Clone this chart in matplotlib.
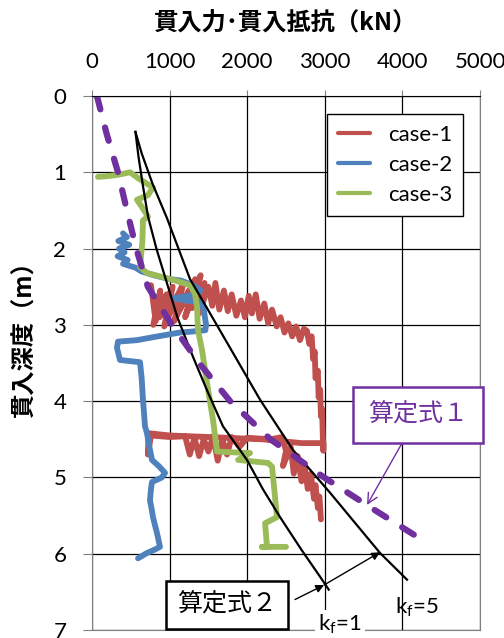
import matplotlib
matplotlib.use("Agg")
import matplotlib.pyplot as plt

plt.rcParams['font.family'] = ['Lato', 'Noto Sans CJK JP', 'DejaVu Sans']

# case-1 (red)
case1_x = [760, 820, 880, 790, 960, 870, 1040, 930, 1100, 990, 1180, 1060, 1250, 1130, 1330, 1200, 1400, 1290, 1450, 1380, 1500,
           1550, 1590, 1640, 1700, 1750, 1800, 1860, 1920, 1970, 2020, 2060, 2110, 2160, 2220, 2270, 2320, 2380, 2430, 2480,
           2530, 2580, 2630, 2680, 2730, 2770,
           2800, 2830, 2850, 2870, 2880, 2910, 2920, 2940, 2950, 2965, 2975, 2980, 2985,
           2700, 2200, 1500, 1000, 730, 720, 760,
           1000, 1200, 1260, 1320, 1380, 1440, 1500, 1560, 1620, 1680, 1740, 1800, 1900, 2000, 2300, 2450,
           2500, 2460, 2560, 2600, 2650, 2700, 2740, 2780, 2820, 2860, 2880, 2910, 2930, 2950]
case1_y = [2.48, 2.95, 2.55, 3.0, 2.6, 2.9, 2.5, 3.02, 2.62, 2.85, 2.45, 2.95, 2.55, 2.8, 2.4, 2.9, 2.35, 2.78, 2.45, 2.85, 2.5,
           2.75, 2.45, 2.8, 2.55, 2.82, 2.6, 2.88, 2.68, 2.9, 2.62, 2.85, 2.6, 2.92, 2.72, 2.98, 2.8, 3.02, 2.9, 3.1,
           2.98, 3.15, 3.02, 3.2, 3.05, 3.08,
           3.25, 3.15, 3.45, 3.35, 3.7, 3.6, 3.95, 3.85, 4.2, 4.1, 4.5, 4.65, 4.55,
           4.55, 4.5, 4.47, 4.45, 4.42, 4.7, 4.45,
           4.47, 4.46, 4.7, 4.48, 4.72, 4.5, 4.66, 4.46, 4.78, 4.5, 4.7, 4.47, 4.6, 4.48, 4.5, 4.47,
           4.65, 4.85, 4.6, 4.95, 4.72, 5.05, 4.85, 5.15, 4.95, 5.28, 5.1, 5.4, 5.25, 5.55]

# case-2 (blue)
case2_x = [400, 450, 340, 480, 350, 420, 330, 460, 400, 560, 640, 800, 1000, 1150, 1300, 1400, 1250, 1050, 1200, 1400,
           1440, 1470, 1460, 1263, 1134, 850, 580, 335, 322, 361, 619, 640, 657, 670, 683, 709, 740, 773, 860, 941, 900,
           773, 760, 747, 770, 786, 810, 838, 876, 800, 709, 593]
case2_y = [1.8, 1.85, 1.9, 1.95, 2.0, 2.05, 2.1, 2.15, 2.2, 2.25, 2.3, 2.35, 2.4, 2.42, 2.48, 2.55, 2.62, 2.65, 2.68, 2.7,
           2.8, 3.0, 3.07, 3.09, 3.1, 3.15, 3.2, 3.22, 3.3, 3.46, 3.49, 3.7, 3.98, 4.15, 4.33, 4.42, 4.6, 4.77, 4.85, 4.94, 5.0,
           5.06, 5.15, 5.3, 5.42, 5.52, 5.62, 5.73, 5.91, 5.95, 5.99, 6.06]

# case-3 (green)
case3_x = [77, 200, 350, 490, 600, 786, 720, 580, 640, 722, 657, 650, 619, 709, 1044, 1263, 1327, 1353, 1366,
           1418, 1482, 1560, 1611, 1800, 2036, 1882, 2268, 2320, 2384, 2230, 2255, 2190, 2500]
case3_y = [1.06, 1.05, 1.03, 1.0, 1.08, 1.2, 1.3, 1.36, 1.45, 1.58, 1.63, 1.9, 2.24, 2.32, 2.41, 2.48, 2.59, 2.76, 3.07,
           3.33, 3.76, 4.25, 4.66, 4.67, 4.68, 4.77, 4.81, 4.86, 5.52, 5.6, 5.91, 5.91, 5.91]

# 算定式1 (purple dashed)
eq1_x = [64, 190, 335, 450, 570, 720, 1030, 1380, 1780, 2300, 2990, 3600, 4350]
eq1_y = [0, 0.5, 1.0, 1.5, 2.0, 2.5, 3.0, 3.5, 4.0, 4.5, 5.0, 5.4, 5.88]

# 算定式2 (black, kf=1 and kf=5)
kf1_x = [560, 600, 660, 722, 830, 941, 1100, 1302, 1500, 1688, 1997, 2200, 2423, 2700, 2938, 3050]
kf1_y = [0.47, 0.8, 1.2, 1.58, 2.0, 2.37, 2.9, 3.42, 3.9, 4.33, 4.77, 5.15, 5.52, 5.95, 6.3, 6.47]
kf5_x = [560, 640, 780, 966, 1263, 1482, 1750, 2165, 2590, 3067, 3711, 4059]
kf5_y = [0.47, 0.75, 1.15, 1.6, 2.4, 2.78, 3.25, 3.98, 4.64, 5.2, 5.99, 6.34]

fig = plt.figure(figsize=(5.04, 6.38), dpi=100)
ax = fig.add_axes([0.1825, 0.0125, 0.77, 0.837])

kw = dict(lw=4.2, solid_joinstyle='round', solid_capstyle='round')
ax.plot(case1_x, case1_y, color='#C0504D', label='case-1', **kw)
ax.plot(case2_x, case2_y, color='#4F81BD', label='case-2', **kw)
ax.plot(case3_x, case3_y, color='#9BBB59', label='case-3', **kw)
ax.plot(kf1_x, kf1_y, color='black', lw=1.6)
ax.plot(kf5_x, kf5_y, color='black', lw=1.6)
ax.plot(eq1_x, eq1_y, color='#7030A0', lw=4.5, dashes=(2.2, 3.0), dash_capstyle='round')

ax.set_xlim(0, 5000)
ax.set_ylim(7, 0)
ax.set_xticks(range(0, 5001, 1000))
ax.set_yticks(range(0, 8))
ax.xaxis.tick_top()
ax.tick_params(axis='x', direction='out', length=4, pad=13, labelsize=16, color='#808080')
ax.tick_params(axis='y', direction='out', length=6.5, pad=12, labelsize=16, color='#808080')
ax.grid(True, color='black', lw=0.9)
for s in ['left', 'right', 'bottom']:
    ax.spines[s].set_color('#808080')
ax.spines['top'].set_color('black')

leg = ax.legend(loc='upper right', bbox_to_anchor=(0.985, 0.987), fontsize=16, fancybox=False,
                edgecolor='black', framealpha=1, handlelength=1.45, labelspacing=0.45, borderpad=0.5)
leg.get_frame().set_linewidth(1)
for h in leg.get_lines():
    h.set_linewidth(3)

fig.text(0.5675, 1 - 23 / 638, '貫入力･貫入抵抗（kN）', ha='center', va='center', fontsize=17.5,
         fontweight='bold', family=['Noto Sans CJK JP', 'DejaVu Sans'])
fig.text(25 / 504, 1 - 333 / 638, '貫入深度（m）', ha='center', va='center', rotation=90, fontsize=17.5,
         fontweight='bold', family=['Noto Sans CJK JP', 'DejaVu Sans'])

cjk = ['Noto Sans CJK JP', 'DejaVu Sans']
ax.annotate('算定式１', xy=(3544, 5.36), xytext=(4200, 4.18), ha='center', va='center', fontsize=18,
            color='#7030A0', family=cjk, zorder=10,
            bbox=dict(boxstyle='square,pad=0.6', fc='white', ec='#7030A0', lw=1.8),
            arrowprops=dict(arrowstyle='->', color='#7030A0', lw=1, shrinkA=0, shrinkB=0))
ax.text(1740, 6.67, '算定式２', ha='center', va='center', fontsize=18, family=cjk, zorder=10,
        bbox=dict(boxstyle='square,pad=0.45', fc='white', ec='black', lw=1.8))
ax.annotate('', xy=(2990, 6.41), xytext=(2616, 6.6),
            arrowprops=dict(arrowstyle='-|>', color='black', lw=1, shrinkA=0, shrinkB=0, mutation_scale=12))
ax.annotate('', xy=(3711, 5.98), xytext=(2990, 6.41),
            arrowprops=dict(arrowstyle='-|>', color='black', lw=1, shrinkA=0, shrinkB=0, mutation_scale=12))
ax.text(3196, 6.93, r'k$\mathregular{_f}$=1', ha='center', va='center', fontsize=16, zorder=10,
        bbox=dict(boxstyle='square,pad=0.15', fc='white', ec='none'))
ax.text(4190, 6.7, r'k$\mathregular{_f}$=5', ha='center', va='center', fontsize=16, zorder=10)

fig.savefig('out.png', dpi=100)
